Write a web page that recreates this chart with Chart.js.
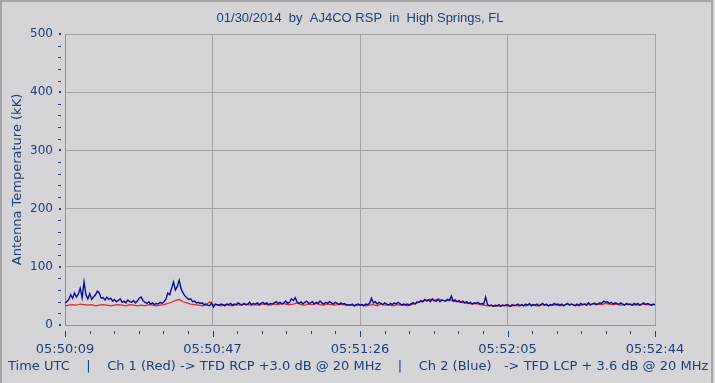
<!DOCTYPE html>
<html><head><meta charset="utf-8">
<script src="https://cdn.jsdelivr.net/npm/chart.js@4.4.1/dist/chart.umd.min.js"></script>
<style>
html,body{margin:0;padding:0;background:#d5d5d9;}
#wrap{position:relative;width:715px;height:383px;overflow:hidden;background:#d5d5d9;}
#frame{position:absolute;left:0;top:0;width:709px;height:381px;border-top:2px solid #a6a6aa;border-left:2px solid #a6a6aa;border-right:2px solid #a6a6aa;pointer-events:none;}
canvas{position:absolute;left:0;top:0;}
</style></head><body>
<div id="wrap"><canvas id="c" width="715" height="383"></canvas><div id="frame"></div></div>
<script>
const chartTitle = "01/30/2014  by  AJ4CO RSP  in  High Springs, FL";
const yAxisTitle = "Antenna Temperature (kK)";
const xAxisTitle = "Time UTC    |    Ch 1 (Red) -> TFD RCP +3.0 dB @ 20 MHz    |    Ch 2 (Blue)   -> TFD LCP + 3.6 dB @ 20 MHz";
const timeTickLabels = ["05:50:09","05:50:47","05:51:26","05:52:05","05:52:44"];
const timeTickSeconds = [0, 38.75, 77.5, 116.25, 155];
const yMin = 0, yMax = 500, yStep = 100, yMinorStep = 20;
const xMinorDivisions = 6;

// Ch 2 (Blue) antenna temperature, kK, one sample every 0.5 s from 05:50:09
const ch2BlueStep = 0.5;
const ch2Blue = [
  38,40,44,52,46,55,48,53,63,47,74,52,45,54,44,48,52,58,55,46,
  47,43,48,44,46,41,44,40,42,45,39,41,38,43,40,39,42,38,41,46,
  48,42,39,37,40,36,38,35,37,36,39,37,40,44,55,52,63,74,60,66,
  77,62,55,50,47,44,45,40,41,38,39,37,38,35,36,34,33,38,31,36,
  35,34,36,35,33,36,35,37,34,36,35,38,36,34,37,35,36,39,35,37,
  36,38,35,37,39,36,38,35,37,36,38,40,37,39,36,38,41,37,39,45,
  42,47,39,37,40,36,39,41,37,38,40,36,39,37,41,38,36,39,37,40,
  38,36,39,37,35,38,36,37,34,35,34,36,33,35,36,34,35,33,36,35,
  37,46,38,40,36,39,37,35,38,36,34,37,35,38,36,39,37,34,36,35,
  36,34,37,38,36,40,39,42,40,44,41,43,40,45,42,41,44,40,43,42,
  41,44,42,50,41,43,40,42,39,41,38,40,37,39,36,38,37,39,36,37,
  36,48,35,33,34,32,34,33,35,32,34,33,35,34,32,35,33,34,36,33,
  35,33,36,34,37,33,35,34,36,33,35,37,34,36,33,35,34,37,35,36,
  34,36,33,35,37,34,36,35,33,36,34,37,35,36,34,38,35,36,37,35,
  36,38,37,41,39,40,37,39,36,38,37,35,38,36,34,37,35,36,34,37,
  35,37,34,36,38,35,37,36,34,36,35
];

// Ch 1 (Red) antenna temperature, kK, one sample every 1 s from 05:50:09
const ch1RedStep = 1;
const ch1Red = [
  33,34,35,34,36,35,34,35,33,34,
  35,34,33,34,35,34,33,35,34,33,
  34,33,35,34,33,34,35,37,39,42,
  44,40,38,36,35,34,33,34,40,35,
  34,33,35,34,33,35,34,36,35,34,
  35,34,36,35,34,36,35,37,36,35,
  36,38,35,34,36,35,37,35,34,36,
  35,34,36,35,34,35,33,34,35,33,
  34,35,33,36,34,35,33,34,35,34,
  33,35,37,39,41,43,44,42,45,43,
  42,44,41,40,39,38,37,36,37,35,
  34,33,34,32,33,34,33,32,34,33,
  34,33,35,34,33,34,35,33,34,35,
  33,34,36,35,34,33,35,36,34,38,
  36,35,37,36,35,36,34,35,36,34,
  35,34,36,35,34,35
];

const textColor = '#1e3f73';
const gridColor = '#a2a2a6';

const toPoints = (arr, step) => arr.map((v, i) => ({x: i * step, y: v}));

const axisMarks = {
  id: 'axisMarks',
  afterDraw(chart) {
    const {ctx, scales: {x, y}} = chart;
    ctx.save();
    ctx.fillStyle = textColor;
    for (let v = yMin; v <= yMax; v += yMinorStep) {
      const py = Math.round(y.getPixelForValue(v));
      if (v % yStep === 0) ctx.fillRect(59, py - 1, 2, 2);
      else ctx.fillRect(58, py, 3, 1);
    }
    const xMin = timeTickSeconds[0], xMax = timeTickSeconds[timeTickSeconds.length - 1];
    const n = (timeTickSeconds.length - 1) * xMinorDivisions;
    for (let i = 0; i <= n; i++) {
      const t = xMin + (xMax - xMin) * i / n;
      const px = Math.round(x.getPixelForValue(t));
      const major = i % xMinorDivisions === 0;
      ctx.fillRect(px, 331, 1, major ? 6 : 3);
    }
    // x axis caption line (drawn at natural width, left aligned like the original)
    ctx.font = '13px "DejaVu Sans"';
    ctx.textAlign = 'left';
    ctx.textBaseline = 'middle';
    ctx.fillText(xAxisTitle, 8, 367);
    ctx.restore();
  }
};

new Chart(document.getElementById('c'), {
  type: 'line',
  data: {
    datasets: [
      {label: 'Ch 2 (Blue)', data: toPoints(ch2Blue, ch2BlueStep), borderColor: '#0c0c96', borderWidth: 1.4, pointRadius: 0, tension: 0},
      {label: 'Ch 1 (Red)', data: toPoints(ch1Red, ch1RedStep), borderColor: '#e02626', borderWidth: 1.2, pointRadius: 0, tension: 0}
    ]
  },
  options: {
    responsive: false,
    animation: false,
    devicePixelRatio: 1,
    layout: {padding: {left: 5, right: 0, top: 0, bottom: 0}},
    plugins: {
      legend: {display: false},
      tooltip: {enabled: false},
      title: {
        display: true, text: chartTitle, color: textColor,
        font: {family: 'Liberation Sans', size: 13, weight: 'normal', lineHeight: 1.2},
        padding: {top: 11, bottom: 7.4}
      }
    },
    scales: {
      x: {
        type: 'linear', min: timeTickSeconds[0], max: timeTickSeconds[timeTickSeconds.length - 1],
        afterBuildTicks: s => { s.ticks = timeTickSeconds.map(v => ({value: v})); },
        afterFit: s => { s.height = 58; },
        ticks: {
          autoSkip: false, maxRotation: 0, minRotation: 0, padding: 17, color: textColor,
          font: {family: 'DejaVu Sans', size: 13},
          callback: (v, i) => timeTickLabels[i]
        },
        grid: {color: gridColor, drawTicks: false},
        border: {color: '#8f8f93'},
        title: {display: false}
      },
      y: {
        min: yMin, max: yMax,
        afterFit: s => { s.width = 60; },
        ticks: {stepSize: yStep, padding: 12, color: textColor, font: {family: 'DejaVu Sans', size: 12}},
        grid: {color: gridColor, drawTicks: false},
        border: {color: '#8f8f93'},
        title: {
          display: true, text: yAxisTitle, color: textColor,
          font: {family: 'DejaVu Sans', size: 13, lineHeight: 1.2},
          padding: {top: 5, bottom: 0}
        }
      },
      yRight: {
        type: 'linear', position: 'right', display: true, min: yMin, max: yMax,
        afterFit: s => { s.width = 60; },
        ticks: {display: false},
        grid: {display: false, drawTicks: false},
        border: {display: false}
      }
    }
  },
  plugins: [axisMarks]
});
</script>
</body></html>
